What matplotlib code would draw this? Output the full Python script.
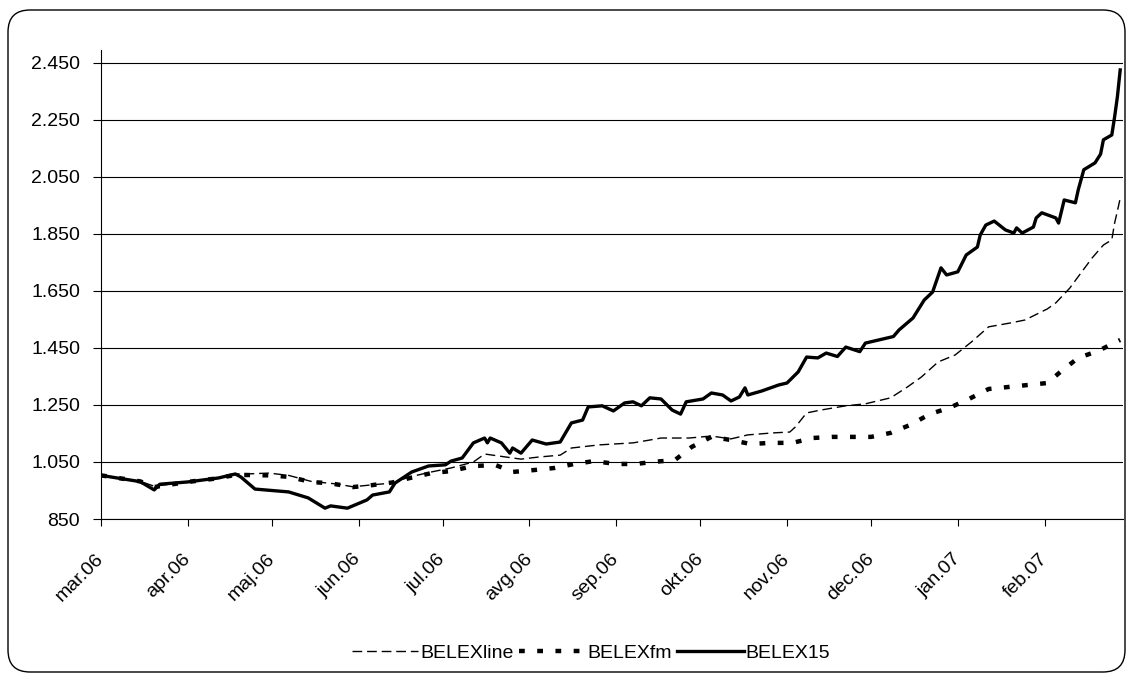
import matplotlib
matplotlib.use('Agg')
import matplotlib.pyplot as plt
from matplotlib.patches import FancyBboxPatch
from matplotlib.ticker import FuncFormatter
import pandas as pd

plt.rcParams['font.family'] = ['Liberation Sans', 'DejaVu Sans']

# BELEX15 (puna linija)
belex15_dates = [
    '2006-03-01', '2006-03-15', '2006-03-20', '2006-03-22', '2006-04-01', '2006-04-12',
    '2006-04-18', '2006-04-20', '2006-04-25', '2006-05-07', '2006-05-14', '2006-05-20',
    '2006-05-22', '2006-05-28', '2006-06-04', '2006-06-06', '2006-06-12', '2006-06-14',
    '2006-06-20', '2006-06-26', '2006-07-02', '2006-07-04', '2006-07-08', '2006-07-12',
    '2006-07-16', '2006-07-17', '2006-07-18', '2006-07-22', '2006-07-25', '2006-07-26',
    '2006-07-29', '2006-08-02', '2006-08-07', '2006-08-12', '2006-08-16', '2006-08-20',
    '2006-08-22', '2006-08-27', '2006-08-31', '2006-09-04', '2006-09-07', '2006-09-10',
    '2006-09-13', '2006-09-17', '2006-09-21', '2006-09-24', '2006-09-26', '2006-10-02',
    '2006-10-05', '2006-10-09', '2006-10-12', '2006-10-15', '2006-10-17', '2006-10-18',
    '2006-10-23', '2006-10-29', '2006-11-01', '2006-11-05', '2006-11-08', '2006-11-12',
    '2006-11-15', '2006-11-19', '2006-11-22', '2006-11-27', '2006-11-29', '2006-12-09',
    '2006-12-11', '2006-12-16', '2006-12-20', '2006-12-23', '2006-12-26', '2006-12-28',
    '2007-01-01', '2007-01-04', '2007-01-08', '2007-01-09', '2007-01-11', '2007-01-14',
    '2007-01-18', '2007-01-21', '2007-01-22', '2007-01-24', '2007-01-28', '2007-01-29',
    '2007-01-31', '2007-02-05', '2007-02-06', '2007-02-08', '2007-02-12', '2007-02-13',
    '2007-02-15', '2007-02-19', '2007-02-21', '2007-02-22', '2007-02-25', '2007-02-26',
    '2007-02-27', '2007-02-28',
]
belex15_values = [
    1003, 981, 952, 972, 980, 994,
    1008, 997, 955, 945, 924, 888,
    896, 888, 917, 934, 945, 976,
    1015, 1036, 1040, 1053, 1064, 1117,
    1134, 1117, 1134, 1117, 1081, 1099,
    1081, 1127, 1113, 1120, 1187, 1197,
    1243, 1247, 1229, 1257, 1261, 1247,
    1275, 1271, 1232, 1218, 1261, 1271,
    1292, 1285, 1264, 1278, 1310, 1285,
    1299, 1320, 1327, 1366, 1418, 1415,
    1432, 1420, 1453, 1437, 1467, 1490,
    1513, 1555, 1618, 1646, 1731, 1706,
    1717, 1776, 1804, 1846, 1881, 1895,
    1864, 1853, 1871, 1853, 1874, 1906,
    1924, 1906, 1888, 1969, 1959, 2004,
    2075, 2099, 2130, 2180, 2197, 2260,
    2331, 2425,
]

# BELEXline (tanka isprekidana)
belexline_dates = [
    '2006-03-01', '2006-03-15', '2006-03-20', '2006-04-01', '2006-04-12', '2006-04-18',
    '2006-04-22', '2006-04-30', '2006-05-07', '2006-05-15', '2006-05-24', '2006-05-30',
    '2006-06-06', '2006-06-13', '2006-06-19', '2006-06-27', '2006-07-04', '2006-07-12',
    '2006-07-16', '2006-07-21', '2006-07-29', '2006-08-04', '2006-08-12', '2006-08-16',
    '2006-08-26', '2006-09-07', '2006-09-13', '2006-09-17', '2006-09-27', '2006-10-05',
    '2006-10-12', '2006-10-18', '2006-10-27', '2006-11-02', '2006-11-04', '2006-11-08',
    '2006-11-13', '2006-11-22', '2006-11-29', '2006-12-08', '2006-12-14', '2006-12-19',
    '2006-12-25', '2006-12-31', '2007-01-06', '2007-01-12', '2007-01-20', '2007-01-25',
    '2007-02-02', '2007-02-05', '2007-02-10', '2007-02-13', '2007-02-18', '2007-02-22',
    '2007-02-25', '2007-02-26', '2007-02-27', '2007-02-28',
]
belexline_values = [
    1003, 982, 965, 980, 993, 1008,
    1008, 1011, 1003, 982, 973, 963,
    970, 976, 997, 1015, 1029, 1050,
    1078, 1071, 1060, 1067, 1074, 1099,
    1110, 1117, 1127, 1134, 1134, 1141,
    1131, 1145, 1152, 1155, 1173, 1222,
    1232, 1247, 1254, 1275, 1313, 1348,
    1401, 1425, 1472, 1524, 1538, 1548,
    1587, 1608, 1660, 1700, 1766, 1811,
    1829, 1888, 1930, 1975,
]

# BELEXfm (debela tackasta)
belexfm_dates = [
    '2006-03-01', '2006-03-15', '2006-03-20', '2006-04-01', '2006-04-12', '2006-04-18',
    '2006-04-30', '2006-05-07', '2006-05-15', '2006-05-22', '2006-05-30', '2006-06-06',
    '2006-06-13', '2006-06-19', '2006-06-27', '2006-07-04', '2006-07-12', '2006-07-20',
    '2006-07-26', '2006-08-03', '2006-08-10', '2006-08-17', '2006-08-24', '2006-09-01',
    '2006-09-08', '2006-09-14', '2006-09-22', '2006-09-28', '2006-10-05', '2006-10-12',
    '2006-10-19', '2006-10-26', '2006-11-03', '2006-11-10', '2006-11-17', '2006-11-24',
    '2006-12-01', '2006-12-08', '2006-12-15', '2006-12-22', '2006-12-29', '2007-01-05',
    '2007-01-12', '2007-01-19', '2007-01-26', '2007-02-02', '2007-02-07', '2007-02-13',
    '2007-02-20', '2007-02-28',
]
belexfm_values = [
    1003, 982, 962, 980, 993, 1005,
    1003, 998, 980, 975, 962, 969,
    978, 993, 1011, 1018, 1036, 1039,
    1015, 1022, 1029, 1043, 1053, 1043,
    1043, 1050, 1057, 1103, 1138, 1127,
    1113, 1117, 1117, 1134, 1138, 1138,
    1138, 1152, 1180, 1218, 1240, 1271,
    1306, 1313, 1320, 1327, 1369, 1415,
    1439, 1478,
]

month_labels = ['mar.06', 'apr.06', 'maj.06', 'jun.06', 'jul.06', 'avg.06',
                'sep.06', 'okt.06', 'nov.06', 'dec.06', 'jan.07', 'feb.07']
y_ticks = [850, 1050, 1250, 1450, 1650, 1850, 2050, 2250, 2450]

fig = plt.figure(figsize=(11.3, 6.75), dpi=100)
ax = fig.add_axes([101 / 1130, 1 - 519 / 675, 1022 / 1130, 469 / 675])

# okvir sa zaobljenim uglovima
frame = FancyBboxPatch((0.08, 0.03), 11.17, 6.62, boxstyle='round,pad=0,rounding_size=0.22',
                       transform=fig.dpi_scale_trans, facecolor='none', edgecolor='black',
                       linewidth=1.0, zorder=0)
fig.patches.append(frame)

ax.plot(pd.to_datetime(belexline_dates), belexline_values, color='black', linewidth=1.0,
        dashes=(7, 3.5), label='BELEXline', zorder=3)
ax.plot(pd.to_datetime(belexfm_dates), belexfm_values, color='black', linewidth=3.2,
        dashes=(1.3, 2.8), dash_capstyle='butt', label='BELEXfm', zorder=3)
ax.plot(pd.to_datetime(belex15_dates), belex15_values, color='black', linewidth=2.4,
        label='BELEX15', zorder=4)

ax.set_xlim(pd.Timestamp('2006-03-01'), pd.Timestamp('2007-03-01'))
ax.set_ylim(850, 2495)
ax.set_yticks(y_ticks)
ax.yaxis.set_major_formatter(FuncFormatter(lambda v, p: f'{v:,.0f}'.replace(',', '.')))
ax.grid(True, axis='y', color='black', linewidth=0.8)
ax.set_axisbelow(True)

ax.set_xticks(pd.date_range('2006-03-01', periods=len(month_labels), freq='MS'))
ax.set_xticklabels(month_labels, rotation=45, ha='right', va='center', rotation_mode='anchor')

for s in ['top', 'right']:
    ax.spines[s].set_visible(False)
for s in ['left', 'bottom']:
    ax.spines[s].set_color('black')
    ax.spines[s].set_linewidth(0.8)
ax.tick_params(axis='both', direction='out', length=5, width=0.8, labelsize=14, colors='black')
ax.tick_params(axis='y', length=6, pad=9)
ax.tick_params(axis='x', pad=22)

fig.legend(loc='center', bbox_to_anchor=(591 / 1130, 1 - 653 / 675), ncol=3, frameon=False,
           fontsize=14, handlelength=3.4, handletextpad=0.1, columnspacing=0.3)

fig.savefig('out.png', dpi=100)
